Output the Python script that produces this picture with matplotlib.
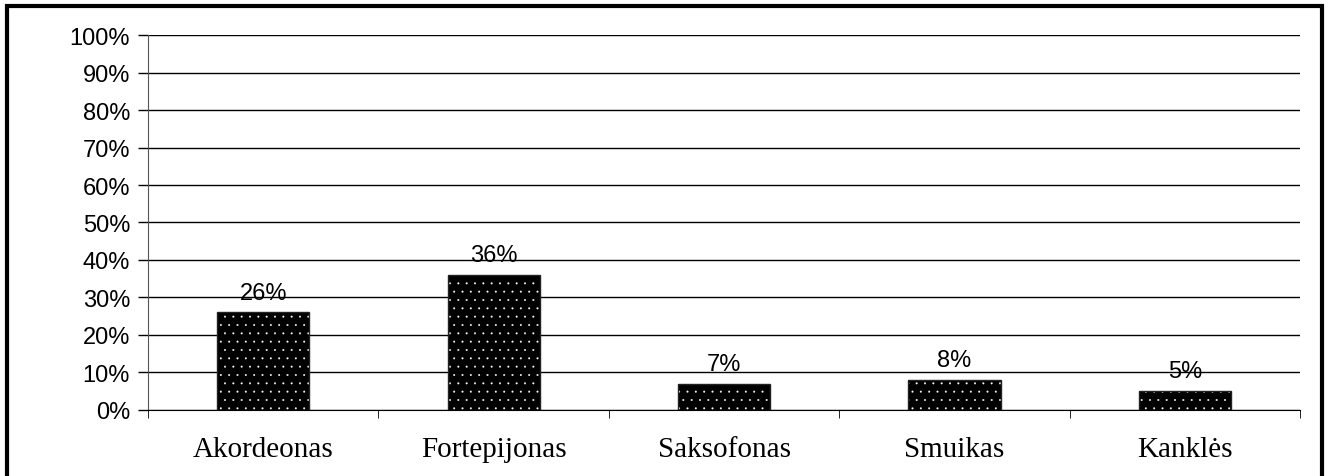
import matplotlib.pyplot as plt
from matplotlib.patches import Rectangle
from matplotlib.ticker import PercentFormatter, MultipleLocator, FixedLocator
import numpy as np

INSTRUMENTS = ['Akordeonas', 'Fortepijonas', 'Saksofonas', 'Smuikas', 'Kanklės']
SHARES = [26, 36, 7, 8, 5]

plt.rcParams['hatch.linewidth'] = 0.2

fig = plt.figure(figsize=(13.29, 4.77), dpi=100)
ax = fig.add_axes([0.1114, 0.1384, 0.8668, 0.7861])

x = np.arange(len(INSTRUMENTS))
# black bars with a fine white dot pattern
ax.bar(x, SHARES, width=0.4, color='black', edgecolor='white', hatch='..', linewidth=0, zorder=3)
ax.bar(x, SHARES, width=0.4, fill=False, edgecolor='#222222', linewidth=1, zorder=4)

for xi, v in zip(x, SHARES):
    ax.text(xi, v + 5.3, '{}%'.format(v), ha='center', va='center',
            fontsize=17, family='Liberation Sans', zorder=5)

ax.set_xlim(-0.5, len(INSTRUMENTS) - 0.5)
ax.set_ylim(0, 100)
ax.yaxis.set_major_locator(MultipleLocator(10))
ax.yaxis.set_major_formatter(PercentFormatter(decimals=0))
ax.grid(axis='y', color='black', linewidth=1, zorder=0)

ax.set_xticks(x)
ax.set_xticklabels(INSTRUMENTS, family='Liberation Serif', fontsize=21)
ax.tick_params(axis='x', length=0, pad=19)
ax.xaxis.set_minor_locator(FixedLocator(np.arange(len(INSTRUMENTS) + 1) - 0.5))
ax.tick_params(axis='x', which='minor', length=6, direction='out', color='black')
ax.tick_params(axis='y', length=7, width=1, pad=6, labelsize=17)
for lbl in ax.get_yticklabels():
    lbl.set_family('Liberation Sans')

for s in ['top', 'right']:
    ax.spines[s].set_visible(False)
ax.spines['left'].set_color('#555555')

# outer frame around the chart
fig.patches.append(Rectangle((0.0055, -0.1), 0.9895, 1.085, transform=fig.transFigure,
                             fill=False, edgecolor='black', linewidth=3))

fig.savefig('out.png', dpi=100)
